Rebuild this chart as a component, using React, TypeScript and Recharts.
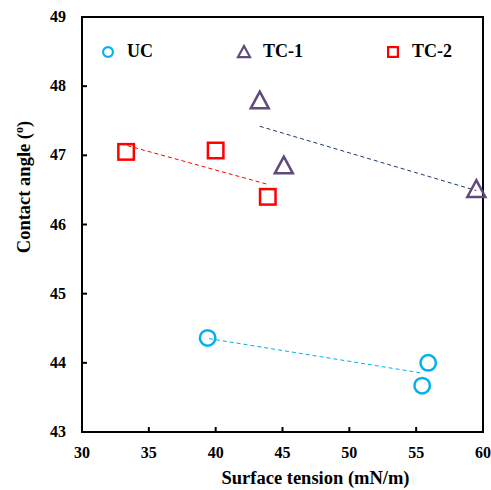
import { ScatterChart, Scatter, XAxis, YAxis, ReferenceArea } from "recharts";

const xTicks = [30, 35, 40, 45, 50, 55, 60];
const yTicks = [43, 44, 45, 46, 47, 48, 49];

const ucTension = [39.4, 55.9, 55.45];
const ucAngle = [44.36, 44.0, 43.67];
const tc1Tension = [43.3, 45.1, 59.5];
const tc1Angle = [47.79, 46.85, 46.51];
const tc2Tension = [33.3, 40.0, 43.9];
const tc2Angle = [47.05, 47.07, 46.4];

// dashed trend lines, end points
const ucFitTension = [39.5, 55.5];
const ucFitAngle = [44.35, 43.85];
const tc1FitTension = [43.3, 59.5];
const tc1FitAngle = [47.42, 46.49];
const tc2FitTension = [33.4, 43.9];
const tc2FitAngle = [47.14, 46.58];

const seriesNames = ["UC", "TC-1", "TC-2"];
const colors = ["#00B0F0", "#604A7B", "#FF0000"];
const fitColors = ["#00B0F0", "#1F3864", "#FF0000"];

const FONT = "'Liberation Serif', 'Times New Roman', serif";

const zip = (xs: number[], ys: number[]) => xs.map((x, i) => ({ x, y: ys[i] }));

function Marker({ kind, cx, cy, size }: { kind: number; cx: number; cy: number; size: number }) {
  const h = size / 2;
  const sw = size > 14 ? 2.5 : 2.2;
  if (kind === 0) return <circle cx={cx} cy={cy} r={h - sw / 2} fill="none" stroke={colors[0]} strokeWidth={sw} />;
  if (kind === 1)
    return (
      <polygon
        points={`${cx},${cy - h} ${cx - h},${cy + h * 0.85} ${cx + h},${cy + h * 0.85}`}
        fill="none"
        stroke={colors[1]}
        strokeWidth={sw}
        strokeLinejoin="miter"
      />
    );
  return <rect x={cx - h + sw / 2} y={cy - h + sw / 2} width={size - sw} height={size - sw} fill="none" stroke={colors[2]} strokeWidth={sw} />;
}

const shapeFor = (kind: number) => (p: any) => <Marker kind={kind} cx={p.cx} cy={p.cy} size={18} />;
const noShape = () => <g />;

function XTick({ x, y, payload }: any) {
  return (
    <g>
      <line x1={x} y1={y} x2={x} y2={y - 5} stroke="#000" strokeWidth={2} />
      <text x={x} y={y + 26} textAnchor="middle" fontFamily={FONT} fontWeight="bold" fontSize={16} fill="#000">
        {payload.value}
      </text>
    </g>
  );
}

function YTick({ x, y, payload }: any) {
  return (
    <g>
      <line x1={x} y1={y} x2={x + 5} y2={y} stroke="#000" strokeWidth={2} />
      <text x={x - 16} y={y + 5} textAnchor="end" fontFamily={FONT} fontWeight="bold" fontSize={16} fill="#000">
        {payload.value}
      </text>
    </g>
  );
}

const legendLeft = [100, 236, 385];

function LegendBox() {
  return (
    <div style={{ position: "absolute", top: 41, left: 0, height: 20, width: 491 }}>
      {seriesNames.map((name, i) => (
        <div key={name} style={{ position: "absolute", left: legendLeft[i], top: 0, display: "flex", alignItems: "center" }}>
          <svg width={16} height={16}>
            <Marker kind={i} cx={8} cy={8} size={12} />
          </svg>
          <span style={{ marginLeft: 11, fontFamily: FONT, fontWeight: "bold", fontSize: 18, color: "#000" }}>{name}</span>
        </div>
      ))}
    </div>
  );
}

export default function App() {
  return (
    <div style={{ position: "relative", width: 491, height: 490, background: "#fff" }}>
      <style>{`body{margin:0}`}</style>
      <ScatterChart width={491} height={490} margin={{ top: 17, right: 8, left: 0, bottom: 0 }}>
        <XAxis
          type="number"
          dataKey="x"
          domain={[30, 60]}
          ticks={xTicks}
          height={58}
          tickSize={0}
          tickMargin={0}
          tickLine={false}
          tick={<XTick />}
          axisLine={{ stroke: "#000", strokeWidth: 2 }}
          label={({ viewBox }: any) => (
            <text
              x={viewBox.x + viewBox.width / 2 + 33}
              y={484}
              textAnchor="middle"
              fontFamily={FONT}
              fontWeight="bold"
              fontSize={18.5}
              fill="#000"
            >
              Surface tension (mN/m)
            </text>
          )}
        />
        <YAxis
          type="number"
          dataKey="y"
          domain={[43, 49]}
          ticks={yTicks}
          width={82}
          tickSize={0}
          tickMargin={0}
          tickLine={false}
          tick={<YTick />}
          axisLine={{ stroke: "#000", strokeWidth: 2 }}
          label={() => (
            <text
              x={0}
              y={0}
              transform="translate(30, 187) rotate(-90)"
              textAnchor="middle"
              fontFamily={FONT}
              fontWeight="bold"
              fontSize={18.5}
              fill="#000"
            >
              Contact angle (<tspan fontSize={12} dy={-7}>o</tspan>
              <tspan dy={7}>)</tspan>
            </text>
          )}
        />
        <ReferenceArea x1={30} x2={60} y1={43} y2={49} fill="none" stroke="#000" strokeWidth={2} ifOverflow="visible" />
        <Scatter data={zip(ucFitTension, ucFitAngle)} line={{ stroke: fitColors[0], strokeWidth: 1, strokeDasharray: "4 3" }} shape={noShape} isAnimationActive={false} legendType="none" />
        <Scatter data={zip(tc1FitTension, tc1FitAngle)} line={{ stroke: fitColors[1], strokeWidth: 1, strokeDasharray: "4 3" }} shape={noShape} isAnimationActive={false} legendType="none" />
        <Scatter data={zip(tc2FitTension, tc2FitAngle)} line={{ stroke: fitColors[2], strokeWidth: 1, strokeDasharray: "4 3" }} shape={noShape} isAnimationActive={false} legendType="none" />
        <Scatter name={seriesNames[0]} data={zip(ucTension, ucAngle)} shape={shapeFor(0)} isAnimationActive={false} />
        <Scatter name={seriesNames[1]} data={zip(tc1Tension, tc1Angle)} shape={shapeFor(1)} isAnimationActive={false} />
        <Scatter name={seriesNames[2]} data={zip(tc2Tension, tc2Angle)} shape={shapeFor(2)} isAnimationActive={false} />
      </ScatterChart>
      <LegendBox />
    </div>
  );
}
